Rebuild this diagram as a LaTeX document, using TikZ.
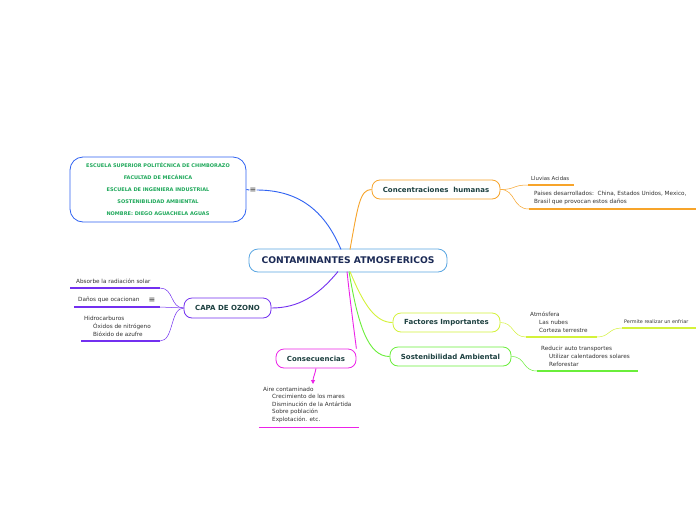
\documentclass[tikz,border=0pt]{standalone}
\usepackage{fontspec}
\setmainfont{DejaVu Sans}
\usetikzlibrary{arrows.meta}
\definecolor{cblue}{HTML}{2F62F2}
\definecolor{corange}{HTML}{F7A42A}
\definecolor{cpurple}{HTML}{7330F0}
\definecolor{cmagenta}{HTML}{EC22E8}
\definecolor{cyellow}{HTML}{D4F23A}
\definecolor{cgreen}{HTML}{6AEE3A}
\definecolor{ccentral}{HTML}{5AA6E2}
\definecolor{cnavy}{HTML}{1B2A55}
\definecolor{cteal}{HTML}{1D4040}
\definecolor{cschool}{HTML}{1EA85A}
\definecolor{ctext}{HTML}{333333}
\tikzset{
  box/.style={draw, fill=white, rounded corners=8pt, line width=0.8pt, text=cteal,
    font=\bfseries\fontsize{7}{8}\selectfont, inner sep=0pt},
  sub/.style={anchor=west, inner sep=0pt, text=ctext, font=\fontsize{5.7}{8}\selectfont, align=left},
  conn/.style={line width=0.9pt},
  uline/.style={line width=1.5pt},
  icon/.style={inner sep=0pt, text=ctext, font=\fontsize{8}{8}\selectfont}
}
\begin{document}
\begin{tikzpicture}[x=1pt,y=-1pt]
\useasboundingbox[fill=white] (0,0) rectangle (696,520);

% main boxes
\node[box, draw=ccentral, minimum width=198pt, minimum height=23pt, rounded corners=9pt,
  text=cnavy, font=\bfseries\fontsize{9.2}{10}\selectfont] (central) at (348,260.5) {CONTAMINANTES ATMOSFERICOS};
\node[box, draw=cblue, minimum width=176pt, minimum height=65pt, rounded corners=13pt,
  text=cschool, align=center, font=\bfseries\fontsize{5}{12}\selectfont] (school) at (158,189.5)
  {ESCUELA SUPERIOR POLITÉCNICA DE CHIMBORAZO\\FACULTAD DE MECÁNICA\\ESCUELA DE INGENIERA INDUSTRIAL\\SOSTENIBILIDAD AMBIENTAL\\NOMBRE: DIEGO AGUACHELA AGUAS};
\node[icon] (schoolicon) at (253,190) {≡};
\node[box, draw=corange, minimum width=128pt, minimum height=19pt] (conc) at (436,189.5) {Concentraciones\ \ humanas};
\node[box, draw=cpurple, minimum width=87pt, minimum height=20pt] (ozono) at (227.5,308) {CAPA DE OZONO};
\node[box, draw=cmagenta, minimum width=80pt, minimum height=19pt] (conse) at (316,358.5) {Consecuencias};
\node[box, draw=cyellow, minimum width=107pt, minimum height=19pt] (fact) at (446.5,322.5) {Factores Importantes};
\node[box, draw=cgreen, minimum width=121pt, minimum height=19pt] (sost) at (450.5,356.5) {Sostenibilidad Ambiental};

% main connectors
\coordinate (cb) at (341,249.5);
\coordinate (co) at (350,249.5);
\coordinate (cp) at (338,271.5);
\coordinate (cm) at (347,271.5);
\coordinate (cy) at (350,271.5);
\coordinate (cg) at (349,271.5);
\draw[conn, cblue] (cb) .. controls (326,214) and (302,190) .. (schoolicon.east);
\draw[conn, cblue] (school.east) -- (schoolicon.west);
\draw[conn, corange] (co) .. controls (358,205) and (360,189.5) .. (conc.west);
\draw[conn, cpurple] (cp) .. controls (318,296) and (298,308) .. (ozono.east);
\draw[conn, cmagenta] (cm) .. controls (350,300) and (354,330) .. (conse.north east);
\draw[conn, cyellow] (cy) .. controls (364,306) and (376,322.5) .. (fact.west);
\draw[conn, cgreen] (cg) .. controls (358,325) and (368,356.5) .. (sost.west);

% Concentraciones subtopics
\node[sub, font=\fontsize{5.4}{7}\selectfont] (lluvias) at (531,178) {Lluvias Acidas};
\coordinate (u1a) at (528,185); \coordinate (u1b) at (574,185);
\draw[uline, corange] (u1a) -- (u1b);
\draw[conn, corange, line width=0.5pt] (conc.east) .. controls (516,189.5) and (512,185) .. (u1a);
\node[sub] (paises) at (534,198) {Paises desarrollados:\ \ China, Estados Unidos, Mexico,\\Brasil que provocan estos daños};
\coordinate (u2a) at (529,209); \coordinate (u2b) at (697,209);
\draw[uline, corange] (u2a) -- (u2b);
\draw[conn, corange, line width=0.5pt] (conc.east) .. controls (516,189.5) and (512,209) .. (u2a);

% Ozono subtopics
\node[sub] (absorbe) at (76,281) {Absorbe la radiación solar};
\coordinate (o1a) at (70,288); \coordinate (o1b) at (160,288);
\draw[uline, cpurple] (o1a) -- (o1b);
\draw[conn, cpurple, line width=0.5pt] (ozono.west) .. controls (170,308) and (174,288) .. (o1b);
\node[sub] (danos) at (78,300) {Daños que ocacionan};
\node[icon] (danosicon) at (152,300) {≡};
\coordinate (o2a) at (74,307); \coordinate (o2b) at (160,307);
\draw[uline, cpurple] (o2a) -- (o2b);
\draw[conn, cpurple, line width=0.5pt] (ozono.west) .. controls (172,308) and (172,307) .. (o2b);
\node[sub] (hidro) at (84,326) {Hidrocarburos\\\hspace*{9pt}Óxidos de nitrógeno\\\hspace*{9pt}Bióxido de azufre};
\coordinate (o3a) at (81,341); \coordinate (o3b) at (160,341);
\draw[uline, cpurple] (o3a) -- (o3b);
\draw[conn, cpurple, line width=0.5pt] (ozono.west) .. controls (170,308) and (174,341) .. (o3b);

% Consecuencias
\coordinate (arrowend) at (313,384);
\draw[conn, cmagenta, -{Triangle[length=4pt,width=4pt]}] (conse.south) .. controls (315,374) and (313,378) .. (arrowend);
\node[sub, anchor=north west, font=\fontsize{5.7}{7.5}\selectfont] (consetext) at (263,386.5)
  {Aire contaminado\\\hspace*{9pt}Crecimiento de los mares\\\hspace*{9pt}Disminución de la Antártida\\\hspace*{9pt}Sobre población\\\hspace*{9pt}Explotación. etc.};
\coordinate (m1a) at (259,427); \coordinate (m1b) at (359,427);
\draw[uline, cmagenta, line width=1pt] (m1a) -- (m1b);

% Factores
\node[sub] (atmos) at (530,322.5) {Atmósfera\\\hspace*{9pt}Las nubes\\\hspace*{9pt}Corteza terrestre};
\coordinate (f1a) at (526,337); \coordinate (f1b) at (597,337);
\draw[uline, cyellow] (f1a) -- (f1b);
\draw[conn, cyellow, line width=0.5pt] (fact.east) .. controls (514,322.5) and (512,337) .. (f1a);
\node[sub, font=\fontsize{4.9}{7}\selectfont] (permite) at (624,322) {Permite realizar un enfriar};
\coordinate (f2a) at (622,328); \coordinate (f2b) at (697,328);
\draw[uline, cyellow] (f2a) -- (f2b);
\draw[conn, cyellow, line width=0.5pt] (f1b) .. controls (610,337) and (608,328) .. (f2a);

% Sostenibilidad
\node[sub] (reducir) at (541,356.5) {Reducir auto transportes\\\hspace*{8pt}Utilizar calentadores solares\\\hspace*{8pt}Reforestar};
\coordinate (s1a) at (537,371); \coordinate (s1b) at (638,371);
\draw[uline, cgreen] (s1a) -- (s1b);
\draw[conn, cgreen, line width=0.5pt] (sost.east) .. controls (526,356.5) and (522,371) .. (s1a);
\end{tikzpicture}
\end{document}
